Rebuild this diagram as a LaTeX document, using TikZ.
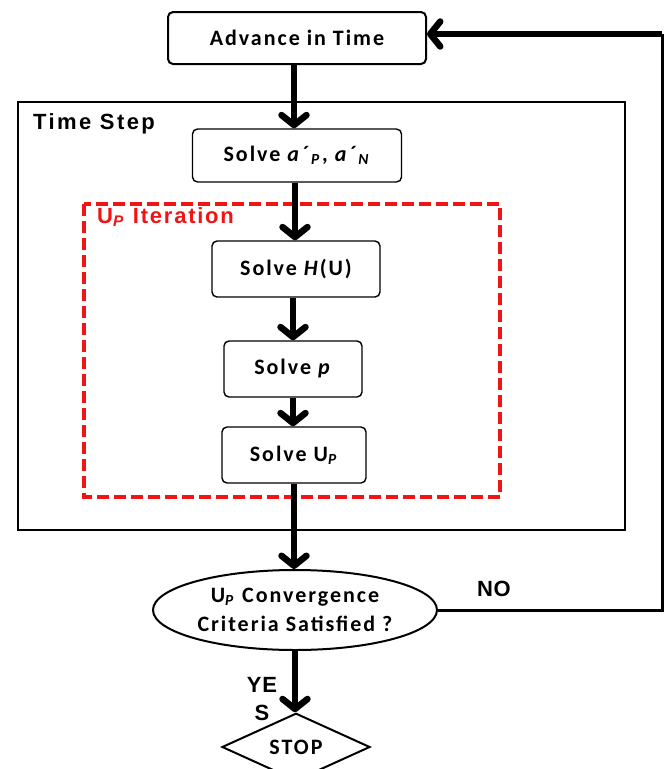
\documentclass[tikz,border=0pt]{standalone}
\usepackage{fontspec}
\setmainfont{Carlito}[LetterSpace=9]
\newfontfamily\arialb{Liberation Sans}[LetterSpace=11]
\newfontfamily\arialm{Liberation Sans}[LetterSpace=8]
\newfontfamily\arialc{Liberation Sans}[LetterSpace=3]
\usetikzlibrary{arrows.meta,shapes.geometric}
\definecolor{dashred}{RGB}{240,20,20}
\tikzset{
  procbox/.style={draw, line width=1.4pt, rounded corners=5pt, align=center,
    font=\fontsize{22}{26}\selectfont\bfseries, inner sep=0pt},
  flowarrow/.style={line width=6.5pt, -{Straight Barb[length=10pt,width=25pt,line cap=round,line join=round]}},
  lab/.style={font=\arialb\fontsize{22}{26}\selectfont\bfseries, inner sep=0pt}
}
\begin{document}
\begin{tikzpicture}[x=1pt,y=-1pt]
\useasboundingbox (0,0) rectangle (668,769);
% frames
\draw[line width=2.5pt] (18,102) rectangle (625,530);
\node[lab, anchor=north west] (tslabel) at (33,113) {Time Step};
\draw[dashred, line width=4.5pt, dash pattern=on 12pt off 5pt] (84,204) rectangle (500,497);
\node[lab, anchor=north west, text=dashred, font=\arialm\fontsize{22}{26}\selectfont\bfseries] (uplabel) at (97,207) {U\textsubscript{\textit{P}} Iteration};
% nodes
\node[procbox, line width=2pt, minimum width=258pt, minimum height=52pt] (adv) at (297,38) {Advance in Time};
\node[procbox, minimum width=209pt, minimum height=53pt] (sa) at (297,155.5) {Solve \textit{a´}\textsubscript{\textit{P}}\kern1pt, \textit{a´}\textsubscript{\textit{N}}};
\node[procbox, minimum width=168pt, minimum height=56pt] (sh) at (296,269) {Solve \textit{H}(U)};
\node[procbox, minimum width=138pt, minimum height=56pt] (sp) at (293,369) {Solve \textit{p}};
\node[procbox, minimum width=144pt, minimum height=56pt] (su) at (294,455) {Solve U\textsubscript{\textit{P}}};
\node[draw, ellipse, line width=2pt, minimum width=284pt, minimum height=80pt, inner sep=0pt, align=center,
  font=\fontsize{22}{29}\selectfont\bfseries] (conv) at (295,610) {U\textsubscript{\textit{P}} Convergence\\Criteria Satisfied ?};
\node[draw, diamond, line width=2pt, minimum width=148pt, minimum height=56pt, inner sep=0pt,
  font=\fontsize{22}{26}\selectfont\bfseries] (stop) at (296,747) {STOP};
% labels
\node[lab, font=\arialc\fontsize{22}{26}\selectfont\bfseries] (no) at (494,589) {NO};
\node[lab, font=\arialc\fontsize{22}{26}\selectfont\bfseries] (ye) at (262,685) {YE};
\node[lab, font=\arialc\fontsize{22}{26}\selectfont\bfseries] (s) at (262,713) {S};
% arrows
\draw[flowarrow] (adv.south -| 294,0) -- (sa.north -| 294,0);
\draw[flowarrow] (sa.south -| 295,0) -- (sh.north -| 295,0);
\draw[flowarrow] (sh.south -| 293,0) -- (sp.north -| 293,0);
\draw[flowarrow] (sp.south -| 293,0) -- (su.north -| 293,0);
\draw[flowarrow] (su.south -| 294,0) -- (conv.north -| 294,0);
\draw[flowarrow] (conv.south -| 295,0) -- (stop.north -| 295,0);
\coordinate (corner) at (662,34);
\draw[line width=3pt] (conv.east) -| (corner);
\draw[flowarrow] (corner) -- (adv.east |- corner);
\end{tikzpicture}
\end{document}
